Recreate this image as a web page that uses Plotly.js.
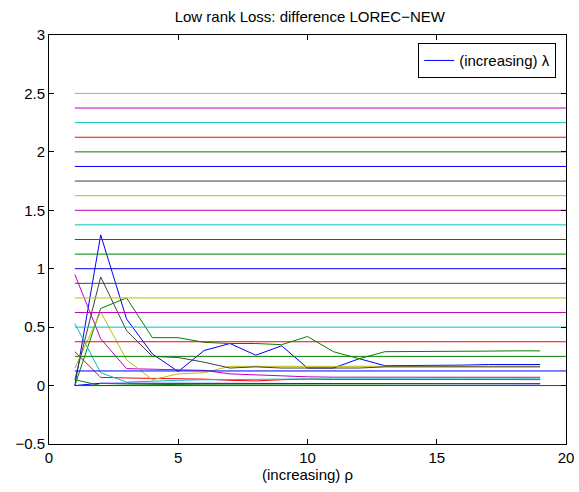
<!DOCTYPE html>
<html>
<head>
<meta charset="utf-8">
<script src="https://cdn.plot.ly/plotly-3.0.1.min.js"></script>
<style>html,body{margin:0;padding:0;background:#fff;}#chart{width:579px;height:492px;}</style>
</head>
<body>
<div id="chart"></div>
<script>
// x values (rho index)
var rho = [1,2,3,4,5,6,7,8,9,10,11,12,13,14,15,16,17,18,19];

// difference curves
var blueA   = [0.00,1.29,0.57,0.27,0.12,0.30,0.36,0.26,0.34,0.15,0.15,0.23,0.17,0.17,0.175,0.175,0.18,0.18,0.18];
var greenA  = [0.00,0.66,0.75,0.41,0.41,0.37,0.36,0.36,0.35,0.42,0.29,0.23,0.29,0.29,0.29,0.295,0.295,0.297,0.297];
var redA    = [0.29,0.07,0.065,0.063,0.06,0.055,0.045,0.04,0.05,0.055,0.052,0.052,0.051,0.051,0.051,0.051,0.051,0.051,0.051];
var cyanA   = [0.53,0.11,0.03,0.04,0.045,0.05,0.05,0.055,0.055,0.057,0.057,0.057,0.057,0.057,0.057,0.057,0.057,0.057,0.057];
var magentaA= [0.95,0.40,0.145,0.14,0.14,0.13,0.10,0.09,0.08,0.075,0.072,0.072,0.071,0.071,0.071,0.071,0.071,0.071,0.071];
var yellowA = [0.15,0.63,0.22,0.05,0.10,0.11,0.165,0.165,0.16,0.16,0.16,0.16,0.165,0.165,0.165,0.165,0.165,0.165,0.165];
var blackA  = [0.05,0.93,0.47,0.25,0.24,0.20,0.15,0.16,0.15,0.15,0.15,0.15,0.16,0.16,0.16,0.16,0.16,0.16,0.16];
var blueB   = [0.00,0.02,0.02,0.02,0.02,0.02,0.02,0.02,0.018,0.018,0.017,0.016,0.016,0.015,0.015,0.015,0.015,0.015,0.015];
var greenB  = [0.05,0.00,0.005,0.01,0.01,0.012,0.012,0.013,0.015,0.015,0.016,0.016,0.017,0.017,0.017,0.017,0.017,0.017,0.017];

var curves = [blueA, greenA, redA, cyanA, magentaA, yellowA, blackA, blueB, greenB];
var curveColors = ['#0000ff','#008000','#ff0000','#00bfbf','#bf00bf','#bfbf00','#404040','#0000ff','#008000'];

// horizontal reference lines (levels), spanning x = 1 .. 20
var levelX = [1, 20];
var levels = [0,0.125,0.25,0.375,0.5,0.625,0.75,0.875,1,1.125,1.25,1.375,1.5,1.625,1.75,1.875,2,2.125,2.25,2.375,2.5];
var levelColors = ['#404040','#0000ff','#008000','#ff0000','#00bfbf','#bf00bf','#bfbf00',
                   '#404040','#0000ff','#008000','#ff0000','#00bfbf','#bf00bf','#bfbf00',
                   '#404040','#0000ff','#008000','#ff0000','#00bfbf','#bf00bf','#bfbf00'];

var xTicks = [0,5,10,15,20];
var yTicks = [-0.5,0,0.5,1,1.5,2,2.5,3];
var yTickText = ['\u22120.5','0','0.5','1','1.5','2','2.5','3'];

var traces = [];
curves.forEach(function(c, i){
  traces.push({x: rho, y: c, type:'scatter', mode:'lines',
    line:{color: curveColors[i], width:1},
    name: i===0 ? '(increasing) \u03bb' : '', showlegend: i===0, hoverinfo:'skip'});
});
levels.forEach(function(v, i){
  traces.push({x: levelX, y: [v, v], type:'scatter', mode:'lines',
    line:{color: levelColors[i], width:1}, showlegend:false, hoverinfo:'skip'});
});

var font = {family:'"Liberation Sans", Arial, Helvetica, sans-serif', size:15, color:'#000'};

var layout = {
  width:579, height:492,
  margin:{l:49, r:13, t:35, b:48},
  paper_bgcolor:'#fff', plot_bgcolor:'#fff',
  font: font,
  title:{text:'Low rank Loss: difference LOREC\u2212NEW', font:{family:font.family, size:15, color:'#000'},
         x:0.535, xanchor:'center', y:0.965, yref:'container', yanchor:'middle'},
  xaxis:{range:[0,20], tickvals:xTicks, ticktext:xTicks.map(String), ticks:'inside', ticklen:5,
         tickcolor:'#000', showline:true, linecolor:'#000', linewidth:1, mirror:'ticks',
         showgrid:false, zeroline:false, tickfont:font,
         title:{text:'(increasing) \u03c1', font:font, standoff:3}},
  yaxis:{range:[-0.5,3], tickvals:yTicks, ticktext:yTickText, ticks:'inside', ticklen:5,
         tickcolor:'#000', showline:true, linecolor:'#000', linewidth:1, mirror:'ticks',
         showgrid:false, zeroline:false, tickfont:font},
  showlegend:true,
  legend:{x:0.981, xanchor:'right', y:0.980, yanchor:'top', bgcolor:'#fff',
          bordercolor:'#000', borderwidth:1, font:font, tracegroupgap:0,
          itemwidth:30}
};

Plotly.newPlot('chart', traces, layout, {displayModeBar:false, staticPlot:true});
</script>
</body>
</html>
